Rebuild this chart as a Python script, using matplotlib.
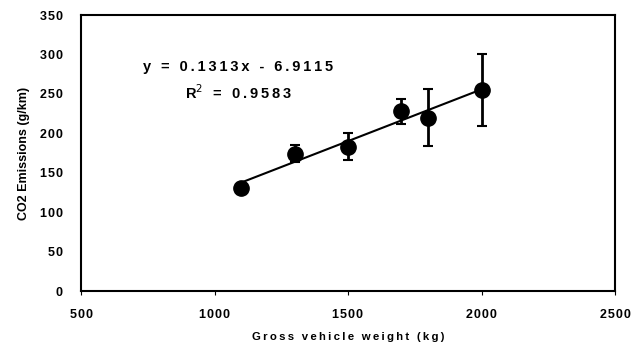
import matplotlib.pyplot as plt

# Vehicle weight vs CO2 emissions
weight = [1100, 1300, 1500, 1700, 1800, 2000]
co2 = [131, 174, 183, 228, 220, 255]
co2_err = [0, 11, 17, 16, 36, 46]

x_ticks = [500, 1000, 1500, 2000, 2500]
y_ticks = [0, 50, 100, 150, 200, 250, 300, 350]

# Linear trendline as printed on the chart
slope = 0.1313
intercept = -6.9115
r_squared = 0.9583

THIN = "\u2009"
HAIR = "\u200a"


def spaced(text: str, gap: str = THIN) -> str:
    """Mimic the wide character spacing of the original chart."""
    return gap.join(text)


plt.rcParams["font.family"] = ["Liberation Sans", "DejaVu Sans"]

fig = plt.figure(figsize=(6.33, 3.49), dpi=100)
ax = fig.add_axes([81 / 633, 1 - 291 / 349, (615 - 81) / 633, (291 - 15) / 349])

# Trendline over the data range
x_fit = [min(weight), max(weight)]
y_fit = [slope * x + intercept for x in x_fit]
ax.plot(x_fit, y_fit, color="black", lw=1.5, zorder=2)

# Data points with error bars
ax.errorbar(
    weight,
    co2,
    yerr=co2_err,
    fmt="o",
    color="black",
    markersize=11,
    elinewidth=2,
    capsize=3.5,
    capthick=1.5,
    zorder=3,
)

ax.set_xlim(500, 2500)
ax.set_ylim(0, 350)
ax.set_xticks(x_ticks)
ax.set_yticks(y_ticks)
ax.set_xticklabels([spaced(str(v), HAIR) for v in x_ticks], fontweight="bold")
ax.set_yticklabels([spaced(str(v), HAIR) for v in y_ticks], fontweight="bold")

for side in ax.spines.values():
    side.set_linewidth(1.5)
    side.set_color("black")

ax.tick_params(axis="x", direction="out", length=3, width=0.8, pad=10, labelsize=9)
ax.tick_params(axis="y", direction="out", length=0, width=0.8, pad=13, labelsize=9)

ax.set_xlabel(spaced("Gross vehicle weight (kg)"), fontsize=8.2, fontweight="bold", labelpad=8)
ax.set_ylabel("CO2 Emissions (g/km)", fontsize=9, fontweight="bold", labelpad=7)

# Equation and R^2 labels
eq_text = spaced(f"y = {slope}x - {abs(intercept)}")
ax.text(1088, 284, eq_text, ha="center", va="center", fontsize=10.5, fontweight="bold")
ax.text(1088, 251, "R$^2$" + THIN + spaced(f" = {r_squared}"), ha="center", va="center",
        fontsize=10.5, fontweight="bold")

fig.savefig("out.png", dpi=100)
